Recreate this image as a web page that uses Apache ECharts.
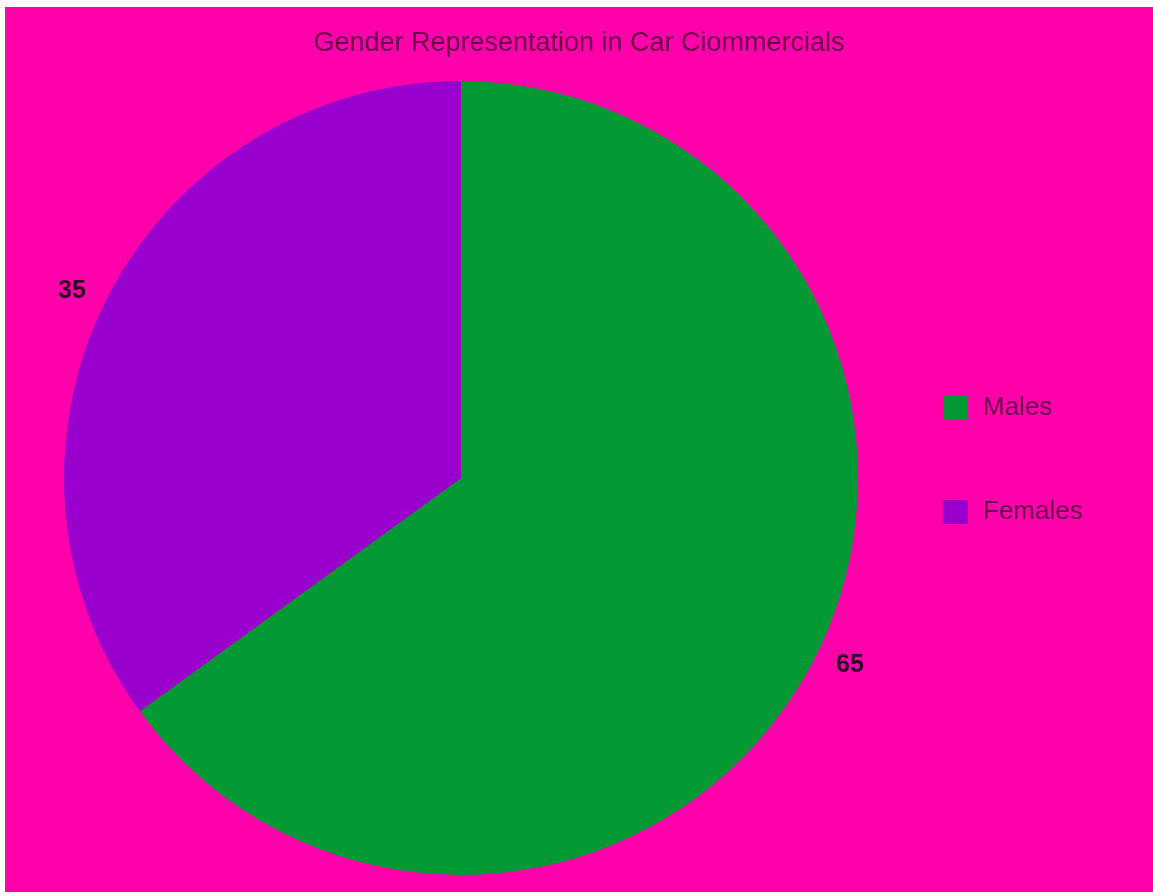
<!DOCTYPE html>
<html>
<head>
<meta charset="utf-8">
<script src="https://cdn.jsdelivr.net/npm/echarts@6/dist/echarts.min.js"></script>
<style>
html,body{margin:0;padding:0;background:#ffffff;}
#chart{position:absolute;left:5px;top:7px;width:1148px;height:885px;}
</style>
</head>
<body>
<div id="chart"></div>
<script>
const titleText = 'Gender Representation in Car Ciommercials';
const categories = ['Males', 'Females'];
const values = [65, 35];
const colors = ['#009933', '#9900cc'];

const chart = echarts.init(document.getElementById('chart'), null, {renderer: 'canvas'});
chart.setOption({
  backgroundColor: '#ff00aa',
  animation: false,
  title: {
    text: titleText,
    left: 'center',
    top: 18,
    textStyle: {fontFamily: 'Liberation Sans, Arial, sans-serif', fontSize: 27, fontWeight: 'normal', color: '#66004a'}
  },
  legend: {
    orient: 'vertical',
    left: 933,
    top: 383,
    itemWidth: 25,
    itemHeight: 24,
    itemGap: 78,
    icon: 'rect',
    data: categories,
    textStyle: {fontFamily: 'Liberation Sans, Arial, sans-serif', fontSize: 26, color: '#66004a', padding: [0, 0, 0, 10]}
  },
  series: [{
    type: 'pie',
    center: [456, 471],
    radius: [0, 397],
    startAngle: 90,
    clockwise: true,
    data: categories.map((c, i) => ({name: c, value: values[i], itemStyle: {color: colors[i]}})),
    itemStyle: {borderWidth: 0},
    label: {
      show: true,
      position: 'outside',
      formatter: '{c}',
      fontFamily: 'Liberation Sans, Arial, sans-serif',
      fontSize: 25,
      fontWeight: 'bold',
      color: '#2a0020',
      distanceToLabelLine: 8
    },
    labelLine: {show: false, length: 15, length2: 0},
    emphasis: {disabled: true}
  }]
});
</script>
</body>
</html>
